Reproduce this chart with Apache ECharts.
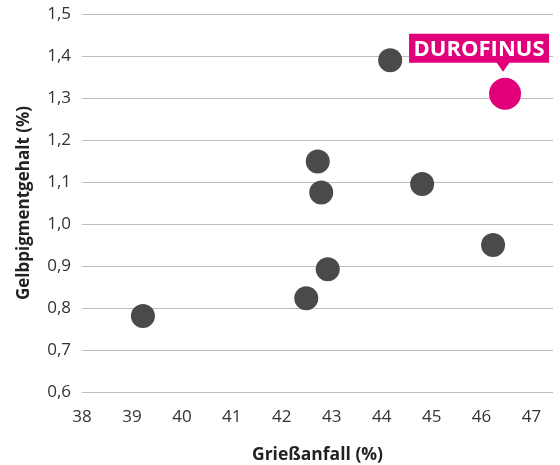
<!DOCTYPE html>
<html>
<head>
<meta charset="utf-8">
<script src="https://cdn.jsdelivr.net/npm/echarts@6/dist/echarts.min.js"></script>
<style>
    html, body { margin: 0; padding: 0; background: #fff; }
    #chart { width: 560px; height: 465px; }
</style>
</head>
<body>
<div id="chart"></div>
<script>
// Sorten: Grießanfall (%) / Gelbpigmentgehalt (%)
const griessanfall = [39.22, 42.49, 42.92, 42.72, 42.79, 44.81, 44.17, 46.23];
const gelbpigment = [0.781, 0.823, 0.892, 1.149, 1.075, 1.095, 1.39, 0.95];

// hervorgehobene Sorte
const highlightName = 'DUROFINUS';
const highlightPoint = [46.47, 1.31];

const xTicks = [38, 39, 40, 41, 42, 43, 44, 45, 46, 47];
const yTicks = [0.6, 0.7, 0.8, 0.9, 1.0, 1.1, 1.2, 1.3, 1.4, 1.5];

const FONT = '"Open Sans", sans-serif';
const GREY = '#4a4a48';
const PINK = '#e2007a';

const chart = echarts.init(document.getElementById('chart'));

chart.setOption({
    animation: false,
    grid: { left: 82, right: 7, top: 14, bottom: 73, outerBoundsMode: 'none' },
    xAxis: {
        type: 'value',
        min: xTicks[0],
        max: 47.43,
        interval: 1,
        name: 'Grießanfall (%)',
        nameLocation: 'middle',
        nameGap: 54,
        nameTextStyle: { fontFamily: FONT, fontSize: 17.5, fontWeight: 'bold', color: '#222' },
        axisLine: { show: false },
        axisTick: { show: false },
        splitLine: { show: false },
        axisLabel: {
            fontFamily: FONT, fontSize: 17, color: '#333', margin: 17,
            formatter: v => xTicks.includes(v) ? String(v) : ''
        }
    },
    yAxis: {
        type: 'value',
        min: yTicks[0],
        max: yTicks[yTicks.length - 1],
        interval: 0.1,
        name: 'Gelbpigmentgehalt (%)',
        nameLocation: 'middle',
        nameGap: 49,
        nameRotate: 90,
        nameTextStyle: { fontFamily: FONT, fontSize: 17, fontWeight: 'bold', color: '#222' },
        axisLine: { show: false },
        axisTick: { show: false },
        splitLine: { lineStyle: { color: '#bdbdbd', width: 1 } },
        axisLabel: {
            fontFamily: FONT, fontSize: 17, color: '#333', margin: 11,
            formatter: v => v.toFixed(1).replace('.', ',')
        }
    },
    series: [
        {
            type: 'scatter',
            symbolSize: 24,
            itemStyle: { color: GREY, opacity: 1 },
            data: griessanfall.map((x, i) => [x, gelbpigment[i]])
        },
        {
            type: 'scatter',
            symbolSize: 32,
            itemStyle: { color: PINK, opacity: 1 },
            label: {
                show: true,
                position: 'top',
                distance: 15,
                offset: [-26, 0],
                formatter: highlightName,
                backgroundColor: PINK,
                color: '#fff',
                fontFamily: FONT,
                fontSize: 22,
                lineHeight: 23,
                fontWeight: 'bold',
                width: 128,
                align: 'center',
                padding: [4, 6, 2, 6]
            },
            data: [highlightPoint]
        },
        {
            // Zeiger des Labels
            type: 'scatter',
            symbol: 'triangle',
            symbolRotate: 180,
            symbolSize: [14, 10],
            symbolOffset: [-2, -27],
            itemStyle: { color: PINK, opacity: 1 },
            silent: true,
            data: [highlightPoint]
        }
    ]
});
</script>
</body>
</html>
